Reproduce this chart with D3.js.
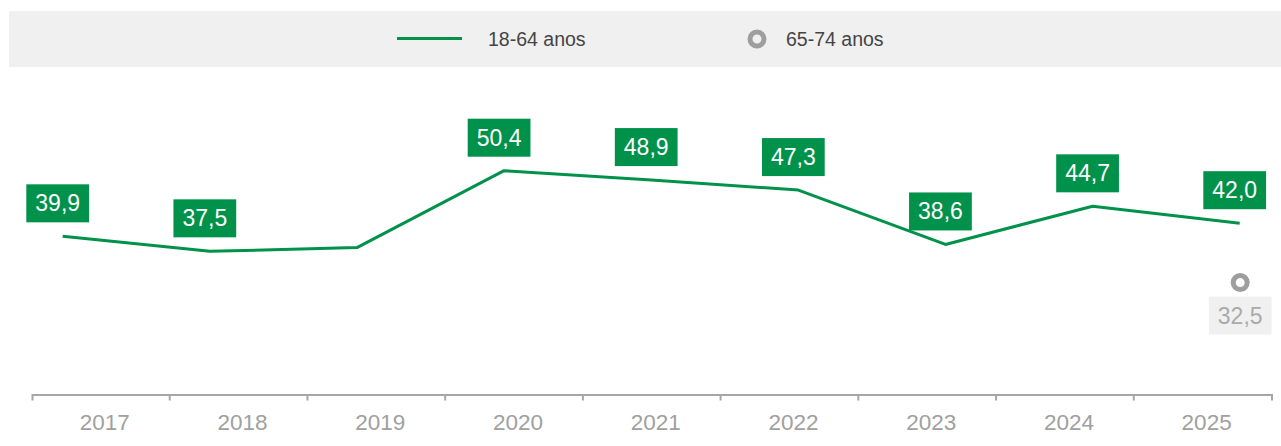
<!DOCTYPE html>
<html>
<head>
<meta charset="utf-8">
<script src="https://cdn.jsdelivr.net/npm/d3@7"></script>
<style>
  body { margin: 0; background: #fff; }
  svg { display: block; font-family: "Liberation Sans", Arial, sans-serif; }
</style>
</head>
<body>
<div id="chart"></div>
<script>
// data
let years = ["2017", "2018", "2019", "2020", "2021", "2022", "2023", "2024", "2025"];
let values_1864 = [39.9, 37.5, 38.1, 50.4, 48.9, 47.3, 38.6, 44.7, 42.0];
let labelled_1864 = ["2017", "2018", "2020", "2021", "2022", "2023", "2024", "2025"];
let years_6574 = ["2025"];
let values_6574 = [32.5];
let series_names = ["18-64 anos", "65-74 anos"];

let green = "#00924a";
let grey = "#9e9e9e";

let fmt = v => v.toFixed(1).replace(".", ",");

let svg = d3.select("#chart").append("svg")
    .attr("width", 1281)
    .attr("height", 446);

// legend band
svg.append("rect")
    .attr("x", 9).attr("y", 11)
    .attr("width", 1272).attr("height", 56)
    .attr("fill", "#f0f0f0");

svg.append("line")
    .attr("x1", 397).attr("x2", 462)
    .attr("y1", 38.5).attr("y2", 38.5)
    .attr("stroke", green).attr("stroke-width", 3);
svg.append("text")
    .attr("x", 488).attr("y", 46)
    .attr("font-size", 19.5).attr("fill", "#444")
    .text(series_names[0]);

svg.append("circle")
    .attr("cx", 757).attr("cy", 39).attr("r", 7)
    .attr("fill", "none").attr("stroke", grey).attr("stroke-width", 5);
svg.append("text")
    .attr("x", 786).attr("y", 46)
    .attr("font-size", 19.5).attr("fill", "#444")
    .text(series_names[1]);

// scales
let x_band = d3.scaleBand().domain(years).range([32, 1271.5]);
let x_point = d3.scalePoint().domain(years).range([62.7, 1239.7]);
let y_scale = d3.scaleLinear().domain([20, 60]).range([360.7, 110.7]);

// x axis
let axis = svg.append("g")
    .attr("transform", "translate(0,394.5)")
    .call(d3.axisBottom(x_band).tickSize(0).tickSizeOuter(6).tickPadding(0));
axis.select(".domain").attr("stroke", "#a6a6a6").attr("stroke-width", 2);
axis.selectAll(".tick text")
    .attr("dx", 4)
    .attr("y", 35.5)
    .attr("dy", 0)
    .attr("font-size", 22.5)
    .attr("font-family", "Liberation Sans, Arial, sans-serif")
    .attr("fill", "#a0a0a0");
axis.selectAll(".boundary")
    .data(years.slice(1))
    .enter().append("line")
    .attr("x1", d => x_band(d)).attr("x2", d => x_band(d))
    .attr("y1", 0).attr("y2", 6)
    .attr("stroke", "#a6a6a6").attr("stroke-width", 2);

// 18-64 line
let line = d3.line()
    .x((d, i) => x_point(years[i]))
    .y(d => y_scale(d));

svg.append("path")
    .datum(values_1864)
    .attr("d", line)
    .attr("fill", "none")
    .attr("stroke", green)
    .attr("stroke-width", 3)
    .attr("stroke-linejoin", "round");

// value labels for 18-64
years.forEach((yr, i) => {
    if (!labelled_1864.includes(yr)) return;
    let px = x_point(yr) - 5;
    let py = y_scale(values_1864[i]);
    let g = svg.append("g");
    let txt = g.append("text")
        .attr("x", px).attr("y", py - 14 - 11)
        .attr("text-anchor", "middle")
        .attr("font-size", 23).attr("fill", "#fff")
        .text(fmt(values_1864[i]));
    let w = txt.node().getComputedTextLength() + 18;
    g.insert("rect", "text")
        .attr("x", px - w / 2).attr("y", py - 14 - 38)
        .attr("width", w).attr("height", 38)
        .attr("fill", green);
});

// 65-74 points
years_6574.forEach((yr, i) => {
    let px = x_point(yr) + 0.5;
    let py = y_scale(values_6574[i]);
    svg.append("circle")
        .attr("cx", px).attr("cy", py).attr("r", 7)
        .attr("fill", "#fff").attr("stroke", grey).attr("stroke-width", 5);
    let g = svg.append("g");
    let txt = g.append("text")
        .attr("x", px).attr("y", py + 14 + 27)
        .attr("text-anchor", "middle")
        .attr("font-size", 23).attr("fill", "#aaaaaa")
        .text(fmt(values_6574[i]));
    let w = txt.node().getComputedTextLength() + 18;
    g.insert("rect", "text")
        .attr("x", px - w / 2).attr("y", py + 14)
        .attr("width", w).attr("height", 38)
        .attr("fill", "#f0f0f0");
});
</script>
</body>
</html>
